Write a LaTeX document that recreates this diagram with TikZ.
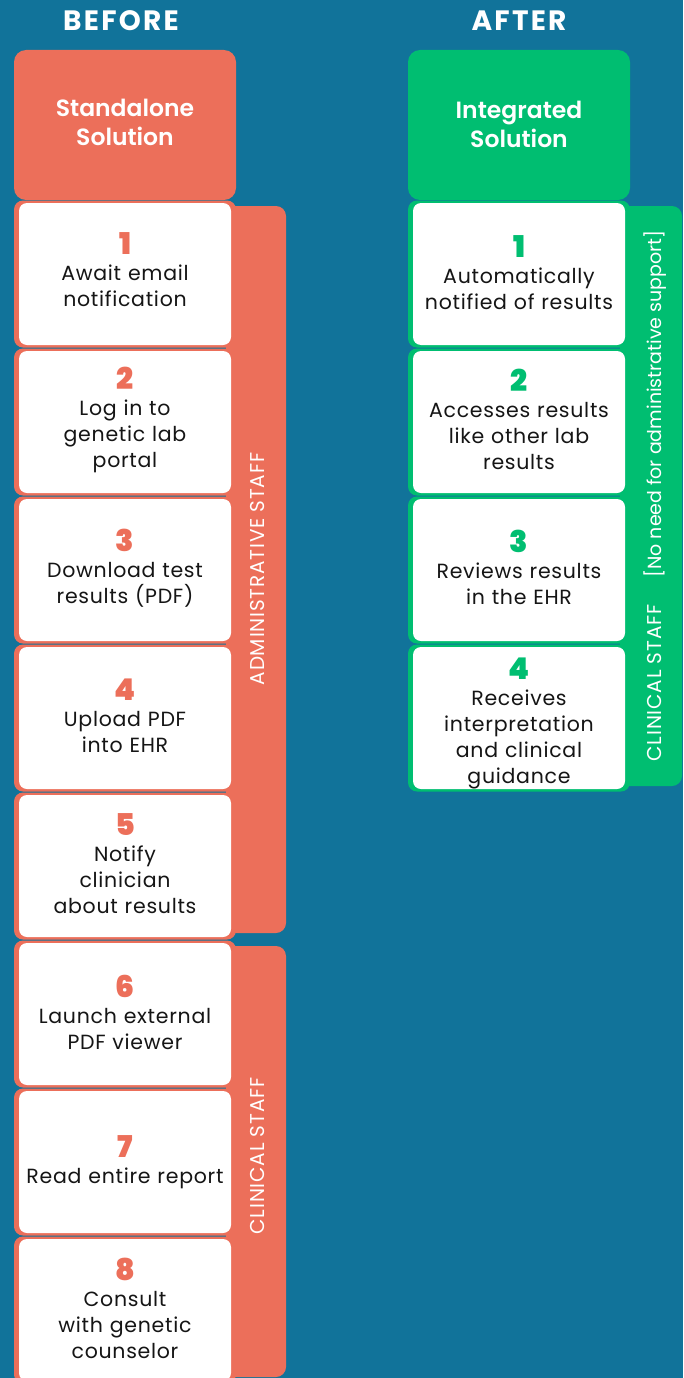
\documentclass[tikz,border=0pt]{standalone}
\usepackage{fontspec}
\setmainfont{Poppins}
\IfFontExistsTF{Poppins Black}{\newfontfamily\numfont{Poppins Black}}{\newcommand\numfont{\bfseries}}
\IfFontExistsTF{Poppins SemiBold}{\newfontfamily\semifont{Poppins SemiBold}}{\newcommand\semifont{\bfseries}}
\definecolor{bg}{HTML}{11739A}
\definecolor{coral}{HTML}{EC6F5A}
\definecolor{mint}{HTML}{00BE71}
\definecolor{ink}{HTML}{151515}

% one numbered step: [text shift], name, x, y, colour, number, text
\newcommand\stepcard[7][2pt]{%
  \node[outercard, fill=#5] (#2o) at (#3,#4) {};
  \node[innercard] (#2) at (#3,#4) {};
  \node[steptext] (#2t) at ([yshift=#1]#2.center)
    {{\numfont\fontsize{30}{26}\selectfont\addfontfeature{LetterSpace=0}\color{#5}#6}\\#7};
}

\begin{document}
\begin{tikzpicture}[x=1pt,y=-1pt,
  outercard/.style={rectangle, rounded corners=9pt, inner sep=0pt,
    minimum width=222pt, minimum height=147pt},
  innercard/.style={rectangle, rounded corners=8pt, fill=white, inner sep=0pt,
    minimum width=212pt, minimum height=142pt},
  steptext/.style={align=center, text width=212pt, inner sep=0pt, text=ink,
    font=\fontsize{20.5}{26}\selectfont\addfontfeature{LetterSpace=3.5}},
  headbox/.style={rectangle, rounded corners=12pt, inner sep=0pt,
    minimum width=222pt, minimum height=150pt},
  headtext/.style={align=center, text=white, font=\semifont\fontsize{23.5}{29}\selectfont},
  coltitle/.style={text=white, font=\bfseries\fontsize{28}{30}\selectfont\addfontfeature{LetterSpace=8}},
  sidebar/.style={rectangle, rounded corners=10pt, inner sep=0pt},
  sidelabel/.style={rotate=90, text=white, inner sep=0pt,
    font=\fontsize{19}{22}\selectfont},
  capslabel/.style={sidelabel, font=\fontsize{20}{22}\selectfont\addfontfeature{LetterSpace=4}}]

\fill[bg] (0,0) rectangle (683,1378);
\useasboundingbox (0,0) rectangle (683,1378);

% column titles
\node[coltitle] (before) at (121,21) {BEFORE};
\node[coltitle] (after) at (519,21) {AFTER};

% staff bars behind the steps
\node[sidebar, fill=coral, minimum width=60pt, minimum height=727pt] (adminbar) at (256,569.5) {};
\node[sidebar, fill=coral, minimum width=60pt, minimum height=431pt] (clinbar) at (256,1161.5) {};
\node[sidebar, fill=mint, minimum width=62pt, minimum height=580pt] (greenbar) at (651,496) {};
\node[capslabel] (adminlbl) at (258,569) {ADMINISTRATIVE STAFF};
\node[capslabel] (clinlbl) at (258,1156) {CLINICAL STAFF};
\node[sidelabel] (nolbl) at (655,404) {[No need for administrative support]};
\node[capslabel] (clinlblr) at (655,683) {CLINICAL STAFF};

% solution headers
\node[headbox, fill=coral] (standalone) at (125,125) {};
\node[headtext] (standalonet) at ([yshift=2.5pt]standalone.center) {Standalone\\Solution};
\node[headbox, fill=mint] (integrated) at (519,125) {};
\node[headtext] (integratedt) at ([yshift=1pt]integrated.center) {Integrated\\Solution};

% standalone workflow
\stepcard[4pt]{l1}{125}{274}{coral}{1}{Await email\\notification}
\stepcard{l2}{125}{422}{coral}{2}{Log in to\\genetic lab\\portal}
\stepcard{l3}{125}{570}{coral}{3}{Download test\\results (PDF)}
\stepcard{l4}{125}{718}{coral}{4}{Upload PDF\\into EHR}
\stepcard{l5}{125}{866}{coral}{5}{Notify\\clinician\\about results}
\stepcard{l6}{125}{1014}{coral}{6}{Launch external\\PDF viewer}
\stepcard[0pt]{l7}{125}{1162}{coral}{7}{Read entire report}
\stepcard{l8}{125}{1310}{coral}{8}{Consult\\with genetic\\counselor}

% integrated workflow
\stepcard[1pt]{r1}{519}{274}{mint}{1}{Automatically\\notified of results}
\stepcard[3pt]{r2}{519}{422}{mint}{2}{Accesses results\\like other lab\\results}
\stepcard[3pt]{r3}{519}{570}{mint}{3}{Reviews results\\in the EHR}
\stepcard[-5pt]{r4}{519}{718}{mint}{4}{Receives\\interpretation\\and clinical\\guidance}
\end{tikzpicture}
\end{document}
